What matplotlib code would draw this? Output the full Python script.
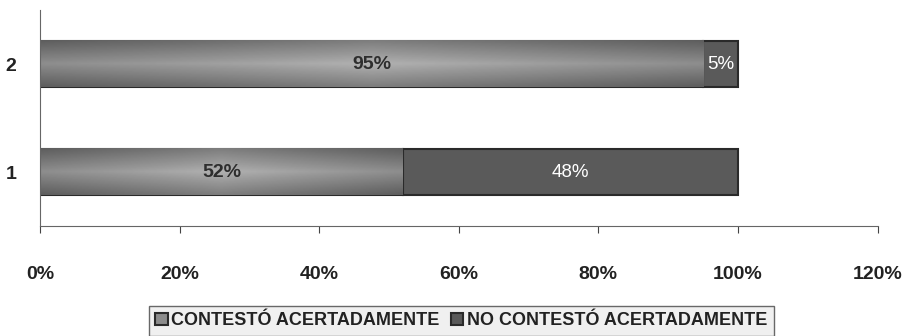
import matplotlib
matplotlib.use("Agg")
import matplotlib.pyplot as plt
import numpy as np

categories = ["1", "2"]
correct = [52, 95]
incorrect = [48, 5]
series_names = ["CONTESTÓ ACERTADAMENTE", "NO CONTESTÓ ACERTADAMENTE"]
xticks = [0, 20, 40, 60, 80, 100, 120]
xtick_labels = ["0%", "20%", "40%", "60%", "80%", "100%", "120%"]

plt.rcParams['font.family'] = ['Liberation Sans', 'DejaVu Sans']

fig = plt.figure(figsize=(9.08, 3.36), dpi=100)
ax = fig.add_axes([0.044, 0.327, 0.9225, 0.643])

y = np.arange(1, len(categories) + 1)
h = 0.43
c1 = "#8c8c8c"
c2 = "#5a5a5a"
b1 = ax.barh(y, correct, height=h, color=c1, edgecolor="#2a2a2a", linewidth=1.5,
             label=series_names[0])
b2 = ax.barh(y, incorrect, left=correct, height=h, color=c2, edgecolor="#2a2a2a",
             linewidth=1.5, label=series_names[1])

# subtle gradient highlight on first segment
for rect in b1:
    x0, y0 = rect.get_x(), rect.get_y()
    w, hh = rect.get_width(), rect.get_height()
    gy = np.abs(np.linspace(-1, 1, 50))[:, None]
    gx = np.abs(np.linspace(-1, 1, 200))[None, :]
    grad = 0.6 * gy + 0.4 * gx
    ax.imshow(grad, extent=[x0, x0 + w, y0, y0 + hh], cmap="Greys", vmin=-1.4, vmax=2.0,
              aspect="auto", zorder=1.5, clip_path=rect, clip_on=True)

for i in range(len(categories)):
    ax.text(correct[i] / 2, y[i], f"{correct[i]}%", ha="center", va="center",
            fontsize=14, fontweight="bold", color="#2e2e2e", zorder=3)
    ax.text(correct[i] + incorrect[i] / 2, y[i], f"{incorrect[i]}%", ha="center",
            va="center", fontsize=13.5, color="white", zorder=3)

ax.set_xlim(0, 120)
ax.set_ylim(0.5, 2.5)
ax.set_xticks(xticks)
ax.set_xticklabels(xtick_labels, fontsize=14, fontweight="bold", color="#222222")
ax.set_yticks(y)
ax.set_yticklabels(categories, fontsize=14, fontweight="bold", color="#222222")
ax.tick_params(axis="x", length=5, pad=24, color="#444444")
ax.tick_params(axis="y", length=0, pad=17)
for s in ["top", "right"]:
    ax.spines[s].set_visible(False)
ax.spines["left"].set_color("#666666")
ax.spines["bottom"].set_color("#666666")

leg = fig.legend(handles=[b1, b2], loc="center", bbox_to_anchor=(0.508, 0.045),
                 ncol=2, frameon=True, fancybox=False, edgecolor="#444444",
                 prop={"size": 13, "weight": "bold"}, handlelength=0.7, handleheight=0.7,
                 handletextpad=0.2, columnspacing=0.6, borderpad=0.35)
leg.get_frame().set_facecolor("#ededed")
for t in leg.get_texts():
    t.set_color("#222222")

fig.savefig("out.png", dpi=100)
